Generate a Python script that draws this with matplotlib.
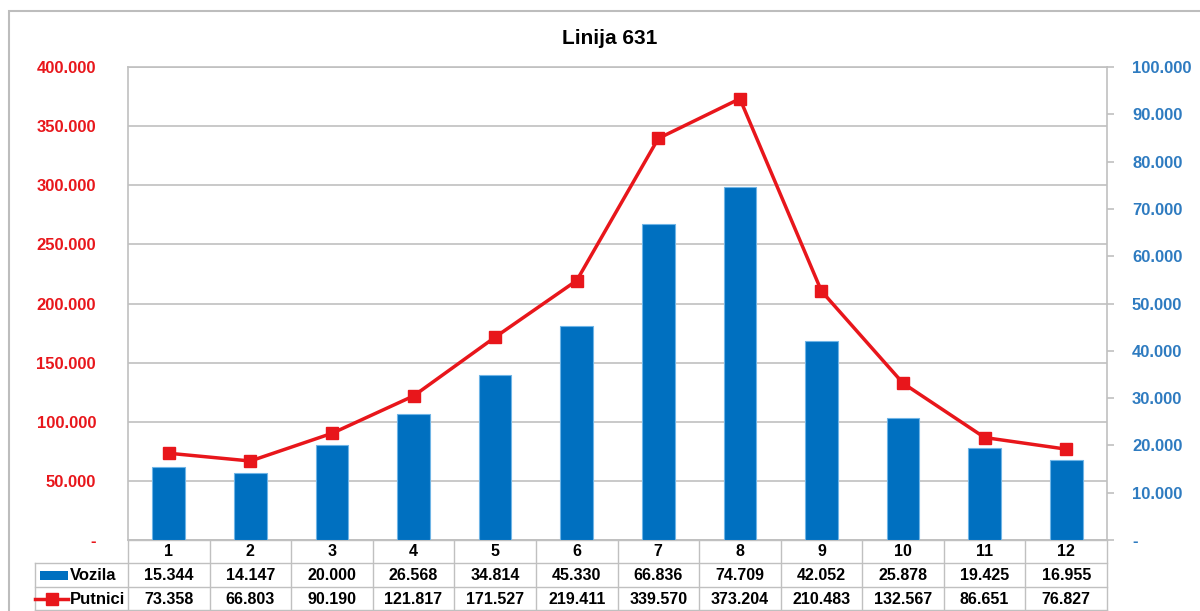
import matplotlib
matplotlib.use("Agg")
import matplotlib.pyplot as plt
from matplotlib import transforms
from matplotlib.patches import Rectangle
from matplotlib.lines import Line2D
from matplotlib.ticker import FixedLocator, FuncFormatter

plt.rcParams['font.family'] = ['Liberation Sans', 'DejaVu Sans']

# Monthly data for line 631
months = ["1", "2", "3", "4", "5", "6", "7", "8", "9", "10", "11", "12"]
vozila = [15344, 14147, 20000, 26568, 34814, 45330, 66836, 74709, 42052, 25878, 19425, 16955]
putnici = [73358, 66803, 90190, 121817, 171527, 219411, 339570, 373204, 210483, 132567, 86651, 76827]
left_ticks = [0, 50000, 100000, 150000, 200000, 250000, 300000, 350000, 400000]
right_ticks = [0, 10000, 20000, 30000, 40000, 50000, 60000, 70000, 80000, 90000, 100000]

W, H = 1200, 611
fig = plt.figure(figsize=(W / 100, H / 100), dpi=100)

RED = '#E8161B'
BLUE = '#0070C0'
RBLUE = '#2E7BC0'
GRID = '#C0C0C0'


def fmt(v, _=None):
    if v == 0:
        return '-'
    return f"{int(round(v)):,}".replace(',', '.')


def fx(px):
    return px / W


def fy(py):
    return 1 - py / H


left_px, right_px, top_px, bot_px = 128, 1107, 67, 540
rect = [fx(left_px), fy(bot_px), fx(right_px) - fx(left_px), fy(top_px) - fy(bot_px)]

# outer chart frame
fig.patches.append(Rectangle((fx(9), -0.2), 1.2, fy(11) + 0.2, transform=fig.transFigure,
                             fill=False, edgecolor='#BDBDBD', linewidth=1.5))

n = len(months)
x = list(range(n))

# background axes: grid and left scale
axL = fig.add_axes(rect, zorder=1)
axL.set_xlim(-0.5, n - 0.5)
axL.set_ylim(0, 400000)
axL.yaxis.set_major_locator(FixedLocator(left_ticks))
axL.yaxis.set_major_formatter(FuncFormatter(fmt))
axL.grid(axis='y', color=GRID, linewidth=1.2)
axL.set_axisbelow(True)
axL.set_xticks([])
axL.tick_params(axis='y', length=0, pad=23, labelcolor=RED, labelsize=12)
for lab in axL.get_yticklabels():
    lab.set_fontweight('bold')
for s in axL.spines.values():
    s.set_color(GRID)
    s.set_linewidth(1.2)
axL.spines['right'].set_visible(False)

# bars on the right scale
axR = axL.twinx()
axR.set_zorder(2)
axR.patch.set_visible(False)
axR.set_ylim(0, 100000)
axR.bar(x, vozila, width=0.4, color=BLUE, edgecolor='#6FB5E6', linewidth=0.8)
axR.yaxis.set_major_locator(FixedLocator(right_ticks))
axR.yaxis.set_major_formatter(FuncFormatter(fmt))
axR.tick_params(axis='y', length=5, width=1.2, color=GRID, pad=13, labelcolor=RBLUE, labelsize=12)
for lab in axR.get_yticklabels():
    lab.set_fontweight('bold')
for s in axR.spines.values():
    s.set_visible(False)
axR.spines['right'].set_visible(True)
axR.spines['right'].set_color(GRID)
axR.spines['right'].set_linewidth(1.2)

# passenger line on the left scale
axP = axL.twinx()
axP.set_zorder(3)
axP.patch.set_visible(False)
axP.set_ylim(0, 400000)
axP.plot(x, putnici, color=RED, linewidth=2.5, marker='s', markersize=8,
         markerfacecolor=RED, markeredgecolor=RED)
axP.set_yticks([])
for s in axP.spines.values():
    s.set_visible(False)

fig.text(0.508, fy(38), 'Linija 631', ha='center', va='center', fontsize=15, fontweight='bold')

# data table under the plot
tr = transforms.blended_transform_factory(axL.transData, fig.transFigure)
rows_px = [540, 563, 587, 610]
lw = 1.0
for b in range(n + 1):
    xb = b - 0.5
    fig.add_artist(Line2D([xb, xb], [fy(rows_px[0]), fy(rows_px[-1])], transform=tr,
                          color=GRID, linewidth=lw))
for i, r in enumerate(rows_px):
    x0 = fx(left_px) if i == 0 else fx(35)
    fig.add_artist(Line2D([x0, fx(right_px)], [fy(r), fy(r)], transform=fig.transFigure,
                          color=GRID, linewidth=lw))
fig.add_artist(Line2D([fx(35), fx(35)], [fy(563), fy(610)], transform=fig.transFigure,
                      color=GRID, linewidth=lw))

for i in range(n):
    fig.text(i, fy(551.5), months[i], transform=tr, ha='center', va='center',
             fontsize=11.5, fontweight='bold')
    fig.text(i, fy(575.5), fmt(vozila[i]), transform=tr, ha='center', va='center',
             fontsize=11.5, fontweight='bold')
    fig.text(i, fy(599.5), fmt(putnici[i]), transform=tr, ha='center', va='center',
             fontsize=11.5, fontweight='bold')

# legend keys inside the table
fig.patches.append(Rectangle((fx(40), fy(580)), fx(68) - fx(40), fy(571) - fy(580),
                             transform=fig.transFigure, facecolor=BLUE, edgecolor='none'))
fig.add_artist(Line2D([fx(35), fx(68)], [fy(599), fy(599)], transform=fig.transFigure,
                      color=RED, linewidth=2.5))
fig.add_artist(Line2D([fx(52)], [fy(599)], transform=fig.transFigure, color=RED,
                      marker='s', markersize=8, linestyle='none'))
fig.text(fx(70), fy(575.5), 'Vozila', ha='left', va='center', fontsize=12, fontweight='bold')
fig.text(fx(70), fy(599.5), 'Putnici', ha='left', va='center', fontsize=12, fontweight='bold')

fig.savefig('out.png', dpi=100)
